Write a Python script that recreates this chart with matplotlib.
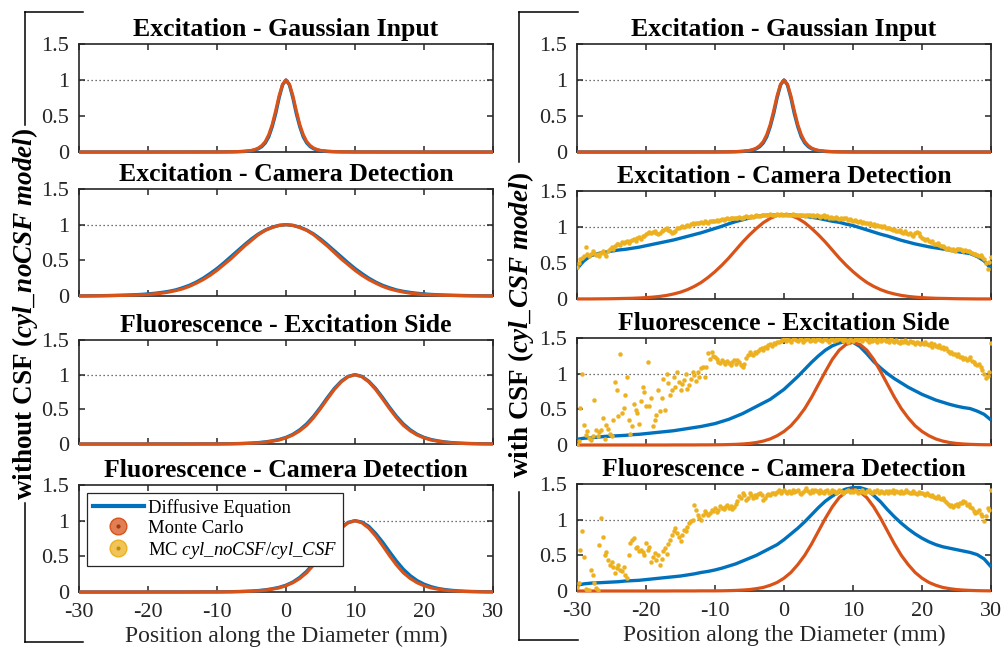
import numpy as np
import matplotlib
matplotlib.use("Agg")
import matplotlib.pyplot as plt
from matplotlib.lines import Line2D

plt.rcParams.update({
    'font.family': ['Liberation Serif', 'DejaVu Serif'],
    'mathtext.fontset': 'custom',
    'mathtext.rm': 'Liberation Serif',
    'mathtext.it': 'Liberation Serif:italic',
    'mathtext.bf': 'Liberation Serif:bold',
    'mathtext.bfit': 'Liberation Serif:italic:bold',
})

# ---------------- data ----------------
X_TICKS = [-30, -20, -10, 0, 10, 20, 30]
X_TICK_LABELS = ['-30', '-20', '-10', '0', '10', '20', '30']
Y_TICKS = [0, 0.5, 1, 1.5]
Y_TICK_LABELS = ['0', '0.5', '1', '1.5']

TITLES = ['Excitation - Gaussian Input', 'Excitation - Camera Detection',
          'Fluorescence - Excitation Side', 'Fluorescence - Camera Detection']

# x positions (mm)
X_NARROW = [-30, -20, -10, -8, -7, -6, -5, -4.5, -4, -3.5, -3, -2.5, -2, -1.5, -1, -0.5, 0,
            0.5, 1, 1.5, 2, 2.5, 3, 3.5, 4, 4.5, 5, 6, 7, 8, 10, 20, 30]
X_MM = np.arange(-30, 31, 1)
X_FINE = np.arange(-30, 30.001, 0.25)

# Panel 1 (both columns): Gaussian input
P1_BLUE = [0, 0, 0.001, 0.002, 0.004, 0.008, 0.018, 0.028, 0.045, 0.075, 0.125, 0.21, 0.35, 0.53, 0.75, 0.93, 1.0,
           0.93, 0.75, 0.53, 0.35, 0.21, 0.125, 0.075, 0.045, 0.028, 0.018, 0.008, 0.004, 0.002, 0.001, 0, 0]
P1_RED = [0, 0, 0.001, 0.003, 0.005, 0.01, 0.022, 0.035, 0.055, 0.09, 0.145, 0.24, 0.38, 0.57, 0.78, 0.94, 1.0,
          0.94, 0.78, 0.57, 0.38, 0.24, 0.145, 0.09, 0.055, 0.035, 0.022, 0.01, 0.005, 0.003, 0.001, 0, 0]

# Left column (without CSF)
L2_BLUE = [0.001, 0.002, 0.003, 0.004, 0.006, 0.008, 0.010, 0.013, 0.017, 0.022,
           0.029, 0.038, 0.050, 0.065, 0.085, 0.115, 0.150, 0.195, 0.250, 0.315,
           0.385, 0.465, 0.550, 0.635, 0.720, 0.800, 0.870, 0.925, 0.965, 0.990,
           1.000,
           0.990, 0.965, 0.925, 0.870, 0.800, 0.720, 0.635, 0.550, 0.465, 0.385,
           0.315, 0.250, 0.195, 0.150, 0.115, 0.085, 0.065, 0.050, 0.038, 0.029,
           0.022, 0.017, 0.013, 0.010, 0.008, 0.006, 0.004, 0.003, 0.002, 0.001]
L2_RED = [0.001, 0.001, 0.002, 0.003, 0.004, 0.006, 0.008, 0.010, 0.013, 0.017,
          0.022, 0.030, 0.040, 0.055, 0.075, 0.100, 0.135, 0.180, 0.230, 0.290,
          0.360, 0.440, 0.520, 0.610, 0.700, 0.780, 0.860, 0.920, 0.960, 0.990,
          1.000,
          0.990, 0.960, 0.920, 0.860, 0.780, 0.700, 0.610, 0.520, 0.440, 0.360,
          0.290, 0.230, 0.180, 0.135, 0.100, 0.075, 0.055, 0.040, 0.030, 0.022,
          0.017, 0.013, 0.010, 0.008, 0.006, 0.004, 0.003, 0.002, 0.001, 0.001]
L3_BLUE = [0, 0, 0, 0, 0, 0, 0, 0, 0, 0,
           0.001, 0.001, 0.001, 0.001, 0.001, 0.001, 0.001, 0.001, 0.002, 0.002,
           0.002, 0.003, 0.004, 0.006, 0.009, 0.013, 0.020, 0.030, 0.045, 0.065,
           0.095, 0.140, 0.205, 0.290, 0.400, 0.530, 0.670, 0.800, 0.905, 0.975,
           1.000,
           0.975, 0.905, 0.800, 0.670, 0.530, 0.400, 0.290, 0.205, 0.140, 0.095,
           0.065, 0.045, 0.030, 0.020, 0.013, 0.009, 0.006, 0.004, 0.003, 0.002]
L3_RED = [0, 0, 0, 0, 0, 0, 0, 0, 0, 0,
          0, 0, 0, 0, 0, 0, 0.001, 0.001, 0.001, 0.001,
          0.001, 0.002, 0.003, 0.005, 0.007, 0.011, 0.017, 0.026, 0.040, 0.058,
          0.088, 0.130, 0.190, 0.270, 0.380, 0.510, 0.650, 0.785, 0.895, 0.970,
          1.000,
          0.970, 0.895, 0.785, 0.650, 0.510, 0.380, 0.270, 0.190, 0.130, 0.088,
          0.058, 0.040, 0.026, 0.017, 0.011, 0.007, 0.005, 0.003, 0.002, 0.001]
L4_BLUE = [0, 0, 0, 0, 0, 0, 0, 0, 0, 0,
           0.001, 0.001, 0.001, 0.001, 0.001, 0.001, 0.001, 0.001, 0.002, 0.002,
           0.002, 0.003, 0.004, 0.006, 0.009, 0.013, 0.020, 0.030, 0.045, 0.065,
           0.095, 0.140, 0.205, 0.290, 0.400, 0.530, 0.670, 0.800, 0.905, 0.975,
           1.000,
           0.980, 0.920, 0.820, 0.700, 0.565, 0.435, 0.320, 0.230, 0.160, 0.110,
           0.075, 0.050, 0.034, 0.023, 0.015, 0.010, 0.007, 0.005, 0.003, 0.002]
L4_RED = [0, 0, 0, 0, 0, 0, 0, 0, 0, 0,
          0, 0, 0, 0, 0, 0, 0.001, 0.001, 0.001, 0.001,
          0.001, 0.002, 0.003, 0.005, 0.007, 0.011, 0.017, 0.026, 0.040, 0.058,
          0.088, 0.130, 0.190, 0.270, 0.380, 0.510, 0.650, 0.785, 0.895, 0.970,
          1.000,
          0.970, 0.895, 0.785, 0.650, 0.510, 0.380, 0.270, 0.190, 0.130, 0.088,
          0.058, 0.040, 0.026, 0.017, 0.011, 0.007, 0.005, 0.003, 0.002, 0.001]

# Right column (with CSF)
R2_BLUE = [0.42, 0.53, 0.60, 0.63, 0.65, 0.665, 0.68, 0.69, 0.705, 0.72,
           0.74, 0.76, 0.78, 0.80, 0.82, 0.845, 0.87, 0.895, 0.92, 0.95,
           0.98, 1.01, 1.045, 1.075, 1.10, 1.125, 1.145, 1.16, 1.165, 1.17,
           1.17,
           1.17, 1.16, 1.15, 1.135, 1.12, 1.10, 1.08, 1.065, 1.04, 1.02,
           0.99, 0.96, 0.93, 0.90, 0.875, 0.845, 0.815, 0.79, 0.765, 0.745,
           0.725, 0.71, 0.695, 0.68, 0.66, 0.645, 0.63, 0.59, 0.53, 0.42]
R2_RED = [0.001, 0.001, 0.001, 0.002, 0.003, 0.004, 0.006, 0.008, 0.010, 0.014,
          0.019, 0.026, 0.036, 0.050, 0.070, 0.095, 0.130, 0.175, 0.230, 0.300,
          0.380, 0.470, 0.570, 0.680, 0.790, 0.890, 0.980, 1.060, 1.120, 1.160,
          1.170,
          1.160, 1.120, 1.060, 0.980, 0.890, 0.790, 0.680, 0.570, 0.470, 0.380,
          0.300, 0.230, 0.175, 0.130, 0.095, 0.070, 0.050, 0.036, 0.026, 0.019,
          0.014, 0.010, 0.008, 0.006, 0.004, 0.003, 0.002, 0.001, 0.001, 0.001]
R2_YELLOW = [
    .44, .50, .55, .57, .60, .72, .63, .60, .62, .66, .64, .61, .62, .60, .64, .67, .62, .60, .66, .70,
    .72, .70, .74, .76, .77, .75, .79, .78, .79, .81, .78, .80, .82, .84, .81, .85, .86, .84, .88, .87,
    .90, .92, .93, .91, .93, .95, .92, .90, .91, .94, .96, .97, .98, .96, .94, .92, .93, .95, .98, .99,
    1.00, 1.01, 1.00, 1.02, 1.03, 1.02, 1.04, 1.05, 1.04, 1.06, 1.05, 1.06, 1.07, 1.06, 1.08, 1.07, 1.06, 1.08, 1.09, 1.08,
    1.09, 1.10, 1.09, 1.10, 1.11, 1.10, 1.11, 1.12, 1.11, 1.12, 1.13, 1.12, 1.12, 1.13, 1.14, 1.13, 1.12, 1.14, 1.15, 1.14,
    1.14, 1.15, 1.14, 1.15, 1.16, 1.15, 1.15, 1.16, 1.16, 1.17, 1.16, 1.17, 1.18, 1.17, 1.16, 1.17, 1.18, 1.17, 1.18, 1.17,
    1.17, 1.18, 1.17, 1.16, 1.17, 1.18, 1.17, 1.16, 1.17, 1.16, 1.17, 1.16, 1.15, 1.16, 1.17, 1.16, 1.15, 1.16, 1.15, 1.16,
    1.15, 1.14, 1.15, 1.16, 1.14, 1.15, 1.13, 1.14, 1.13, 1.12, 1.14, 1.13, 1.11, 1.12, 1.11, 1.13, 1.12, 1.10, 1.11, 1.10,
    1.09, 1.10, 1.08, 1.07, 1.08, 1.06, 1.07, 1.05, 1.06, 1.04, 1.05, 1.03, 1.04, 1.02, 1.03, 1.01, 1.02, 1.00, 1.01, 0.99,
    .98, .99, .97, .96, .97, .95, .94, .96, .93, .92, .94, .91, .90, .92, .89, .88, .91, .93, .92, .88,
    .85, .84, .82, .83, .80, .79, .80, .77, .76, .78, .75, .73, .74, .72, .70, .71, .69, .68, .70, .67,
    .70, .69, .70, .68, .67, .68, .66, .67, .65, .64, .62, .63, .61, .60, .61, .58, .55, .50, .42, .52,
    .58]

R3_BLUE = [0.08, 0.095, 0.10, 0.11, 0.12, 0.125, 0.13, 0.135, 0.145, 0.15,
           0.16, 0.17, 0.18, 0.19, 0.20, 0.215, 0.23, 0.245, 0.26, 0.28,
           0.30, 0.33, 0.36, 0.40, 0.44, 0.49, 0.54, 0.59, 0.64, 0.71,
           0.78, 0.87, 0.96, 1.06, 1.16, 1.25, 1.33, 1.39, 1.43, 1.45,
           1.44,
           1.38, 1.28, 1.17, 1.08, 1.00, 0.93, 0.87, 0.81, 0.76, 0.71,
           0.67, 0.63, 0.60, 0.57, 0.545, 0.525, 0.51, 0.475, 0.43, 0.35]
R3_RED = [0, 0, 0, 0, 0, 0, 0, 0, 0, 0,
          0, 0, 0, 0, 0.001, 0.001, 0.001, 0.001, 0.002, 0.002,
          0.003, 0.004, 0.006, 0.009, 0.014, 0.022, 0.035, 0.055, 0.085, 0.130,
          0.190, 0.270, 0.380, 0.510, 0.670, 0.850, 1.030, 1.200, 1.330, 1.410,
          1.440,
          1.410, 1.330, 1.200, 1.030, 0.850, 0.670, 0.510, 0.380, 0.270, 0.190,
          0.130, 0.085, 0.055, 0.035, 0.022, 0.014, 0.009, 0.006, 0.004, 0.003]
R3_YELLOW = [
    0.00, .05, .52, 1.00, .28, .14, .20, .10, .07, .12, .63, .21, .12, .18, .21, .38, .09, .28, .22, .16,
    .13, .35, .89, .77, .40, 1.27, .45, .52, .70, .96, .35, .16, .26, .58, .49, .45, .30, .61, .82, .75,
    .55, 1.17, .54, .66, .26, .35, .42, .77, .48, .66, .92, .49, 1.00, .87, .70, .77, .95, .82, 1.03, .89,
    .77, .86, .91, 1.00, .78, .84, .93, 1.03, .98, .90, 1.02, .96, 1.08, 1.10, .96, 1.10, 1.29, 1.21, 1.31, 1.25,
    1.24, 1.20, 1.17, 1.15, 1.19, 1.16, 1.13, 1.18, 1.15, 1.12, 1.17, 1.19, 1.14, 1.19, 1.16, 1.12, 1.10, 1.14, 1.22, 1.26,
    1.31, 1.28, 1.26, 1.30, 1.29, 1.32, 1.34, 1.36, 1.33, 1.38, 1.36, 1.40, 1.41, 1.39, 1.43, 1.42, 1.45, 1.44, 1.46, 1.47,
    1.48, 1.46, 1.49, 1.47, 1.45, 1.48, 1.50, 1.47, 1.46, 1.49, 1.48, 1.45, 1.47, 1.50, 1.48, 1.46, 1.47, 1.49, 1.46, 1.48,
    1.49, 1.47, 1.46, 1.48, 1.50, 1.47, 1.45, 1.48, 1.49, 1.46, 1.48, 1.47, 1.50, 1.48, 1.46, 1.49, 1.47, 1.45, 1.48, 1.47,
    1.46, 1.48, 1.50, 1.47, 1.49, 1.46, 1.48, 1.50, 1.47, 1.45, 1.48, 1.46, 1.49, 1.47, 1.45, 1.48, 1.46, 1.47, 1.49, 1.46,
    1.47, 1.45, 1.48, 1.46, 1.44, 1.47, 1.45, 1.43, 1.46, 1.44, 1.47, 1.45, 1.43, 1.46, 1.44, 1.45, 1.42, 1.44, 1.43, 1.41,
    1.43, 1.41, 1.44, 1.42, 1.40, 1.43, 1.38, 1.41, 1.39, 1.37, 1.40, 1.36, 1.38, 1.34, 1.36, 1.32, 1.29, 1.31, 1.27, 1.28,
    1.25, 1.27, 1.23, 1.24, 1.21, 1.22, 1.19, 1.20, 1.23, 1.18, 1.16, 1.14, 1.12, 1.13, 1.10, 1.05, 1.00, .94, .97, 1.02,
    1.43]

R4_BLUE = [0.08, 0.10, 0.11, 0.115, 0.12, 0.125, 0.13, 0.14, 0.145, 0.15,
           0.16, 0.17, 0.18, 0.19, 0.20, 0.21, 0.225, 0.24, 0.26, 0.275,
           0.295, 0.32, 0.35, 0.38, 0.42, 0.46, 0.50, 0.55, 0.60, 0.65,
           0.72, 0.80, 0.88, 0.97, 1.07, 1.17, 1.26, 1.33, 1.39, 1.43,
           1.45,
           1.45, 1.42, 1.34, 1.25, 1.14, 1.04, 0.95, 0.87, 0.80, 0.74,
           0.69, 0.65, 0.62, 0.60, 0.58, 0.56, 0.54, 0.51, 0.45, 0.34]
R4_RED = [0, 0, 0, 0, 0, 0, 0, 0, 0, 0,
          0, 0, 0, 0, 0.001, 0.001, 0.001, 0.001, 0.002, 0.002,
          0.002, 0.003, 0.005, 0.008, 0.013, 0.020, 0.033, 0.050, 0.080, 0.120,
          0.180, 0.260, 0.370, 0.500, 0.660, 0.840, 1.020, 1.180, 1.310, 1.390,
          1.420,
          1.390, 1.310, 1.180, 1.020, 0.840, 0.660, 0.500, 0.370, 0.260, 0.180,
          0.120, 0.080, 0.050, 0.033, 0.020, 0.013, 0.008, 0.005, 0.003, 0.002]
R4_YELLOW = [
    .06, .11, .58, .84, .48, .03, .01, .02, .30, .22, .11, .04, .02, .65, 1.02, .76, .51, .55, .44, .37,
    .40, .33, .25, .32, .36, .30, .28, .33, .22, .18, .51, .67, .72, .74, .60, .62, .56, .58, .55, .50,
    .67, .58, .62, .41, .48, .53, .44, .50, .37, .45, .56, .60, .52, .66, .72, .79, .84, .88, .82, .76,
    .70, .78, .86, .84, .90, .95, .98, 1.00, 1.21, 1.13, 1.07, 1.03, 1.00, 1.06, 1.12, 1.10, 1.07, 1.09, 1.14, 1.12,
    1.16, 1.11, 1.14, 1.19, 1.17, 1.15, 1.18, 1.21, 1.16, 1.19, 1.15, 1.18, 1.22, 1.26, 1.33, 1.30, 1.37, 1.34, 1.27, 1.31,
    1.37, 1.34, 1.30, 1.35, 1.32, 1.36, 1.37, 1.35, 1.28, 1.31, 1.35, 1.36, 1.34, 1.37, 1.38, 1.36, 1.39, 1.41, 1.38, 1.40,
    1.41, 1.39, 1.37, 1.40, 1.38, 1.41, 1.39, 1.40, 1.42, 1.38, 1.36, 1.39, 1.41, 1.44, 1.40, 1.38, 1.41, 1.39, 1.42, 1.40,
    1.38, 1.41, 1.39, 1.37, 1.40, 1.42, 1.38, 1.39, 1.41, 1.40, 1.38, 1.39, 1.41, 1.40, 1.38, 1.39, 1.40, 1.41, 1.39, 1.40,
    1.39, 1.41, 1.40, 1.38, 1.39, 1.41, 1.39, 1.37, 1.40, 1.41, 1.39, 1.38, 1.40, 1.39, 1.41, 1.38, 1.40, 1.39, 1.37, 1.40,
    1.38, 1.40, 1.39, 1.41, 1.38, 1.40, 1.39, 1.37, 1.40, 1.38, 1.39, 1.41, 1.39, 1.37, 1.38, 1.40, 1.38, 1.36, 1.39, 1.37,
    1.38, 1.36, 1.35, 1.37, 1.34, 1.33, 1.35, 1.32, 1.30, 1.33, 1.31, 1.29, 1.30, 1.27, 1.25, 1.22, 1.19, 1.21, 1.18, 1.20,
    1.22, 1.19, 1.23, 1.24, 1.26, 1.25, 1.20, 1.22, 1.18, 1.16, 1.12, 1.09, 1.11, 1.14, 1.08, 1.05, .98, 1.05, 1.16, 1.13,
    1.42]

LEGEND_LABELS = ['Diffusive Equation', 'Monte Carlo', r'MC $\mathit{cyl\_noCSF/cyl\_CSF}$']
YLABEL_LEFT = r'without CSF ($\mathbfit{cyl\_noCSF}$ $\mathbfit{model}$)'
YLABEL_RIGHT = r'with CSF ($\mathbfit{cyl\_CSF}$ $\mathbfit{model}$)'
XLABEL = 'Position along the Diameter (mm)'

# ---------------- styling ----------------
BLUE = '#0072BD'
RED = '#D95319'
YELLOW = '#EDB120'
AXC = '#262626'
W, H = 1004, 654

fig = plt.figure(figsize=(W / 100, H / 100), dpi=100)


def box(l, t, r, b):
    return [l / W, 1 - b / H, (r - l) / W, (b - t) / H]


LEFT_BOXES = [box(79, 44, 493, 152), box(79, 189, 493, 296), box(79, 340, 493, 444), box(79, 485, 493, 592)]
RIGHT_BOXES = [box(577, 44, 991, 152), box(577, 191, 991, 299), box(577, 338, 991, 445), box(577, 484, 991, 591)]

left_data = [(X_NARROW, P1_BLUE, X_NARROW, P1_RED, None),
             (X_MM, L2_BLUE, X_MM, L2_RED, None),
             (X_MM, L3_BLUE, X_MM, L3_RED, None),
             (X_MM, L4_BLUE, X_MM, L4_RED, None)]
right_data = [(X_NARROW, P1_BLUE, X_NARROW, P1_RED, None),
              (X_MM, R2_BLUE, X_MM, R2_RED, R2_YELLOW),
              (X_MM, R3_BLUE, X_MM, R3_RED, R3_YELLOW),
              (X_MM, R4_BLUE, X_MM, R4_RED, R4_YELLOW)]


def draw(ax, data, title, bottom):
    xb, yb, xr, yr, yy = data
    ax.plot(xb, yb, color=BLUE, lw=2.4, zorder=4, clip_on=False, solid_capstyle='butt')
    ax.plot(xr, yr, color=RED, lw=2.3, zorder=5, clip_on=False, solid_capstyle='butt')
    if yy is not None:
        ax.plot(X_FINE, yy, ls='none', marker='o', ms=3.0, mfc=YELLOW, mec=YELLOW, mew=0.2,
                zorder=6, clip_on=True)
    ax.axhline(1, color='#444444', ls=(0, (1, 2.2)), lw=0.9, zorder=1)
    ax.set_xlim(-30, 30)
    ax.set_ylim(0, 1.5)
    ax.set_yticks(Y_TICKS)
    ax.set_yticklabels(Y_TICK_LABELS)
    ax.set_xticks(X_TICKS)
    if bottom:
        ax.set_xticklabels(X_TICK_LABELS)
        ax.set_xlabel(XLABEL, fontsize=17, labelpad=3, color='#262626')
    else:
        ax.set_xticklabels([])
    ax.tick_params(axis='y', direction='in', length=4, width=1.1, left=True, right=True,
                   labelsize=16, pad=7, color=AXC, labelcolor='#262626')
    ax.tick_params(axis='x', direction='in', length=4, width=1.1, top=True, bottom=True,
                   labelsize=16, pad=8, color=AXC, labelcolor='#262626')
    for s in ax.spines.values():
        s.set_linewidth(1.2)
        s.set_color(AXC)
        s.set_zorder(3)
    ax.set_title(title, fontsize=18.5, fontweight='bold', pad=6)


axes_left = []
for i in range(4):
    ax = fig.add_axes(LEFT_BOXES[i])
    draw(ax, left_data[i], TITLES[i], i == 3)
    axes_left.append(ax)
for i in range(4):
    ax = fig.add_axes(RIGHT_BOXES[i])
    draw(ax, right_data[i], TITLES[i], i == 3)

# legend in bottom-left panel
h_blue = Line2D([], [], color=BLUE, lw=3)
h_red = (Line2D([], [], ls='none', marker='o', ms=12, mfc=(0.851, 0.325, 0.098, 0.75), mec=RED, mew=1),
         Line2D([], [], ls='none', marker='o', ms=2, mfc='#A03A10', mec='#A03A10'))
h_yel = (Line2D([], [], ls='none', marker='o', ms=12, mfc=(0.929, 0.694, 0.125, 0.75), mec=YELLOW, mew=1),
         Line2D([], [], ls='none', marker='o', ms=2, mfc='#C08A10', mec='#C08A10'))
leg = axes_left[3].legend([h_blue, h_red, h_yel], LEGEND_LABELS, loc='upper left', fontsize=13.5,
                          frameon=True, fancybox=False, framealpha=1, edgecolor=AXC,
                          handlelength=2.7, handletextpad=0.25, borderpad=0.3,
                          labelspacing=0.15, borderaxespad=0.45)
leg.get_frame().set_linewidth(0.9)
leg.set_zorder(10)

# y labels with bracket lines
fig.text(25 / W, 1 - 314 / H, YLABEL_LEFT, rotation=90, ha='center', va='center',
         fontsize=19.5, fontweight='bold')
fig.text(521 / W, 1 - 325 / H, YLABEL_RIGHT, rotation=90, ha='center', va='center',
         fontsize=19.5, fontweight='bold')


def fline(x0, y0, x1, y1):
    fig.add_artist(Line2D([x0 / W, x1 / W], [1 - y0 / H, 1 - y1 / H], transform=fig.transFigure,
                          color='black', lw=1.1))


fline(25, 12, 83, 12)
fline(25, 12, 25, 125)
fline(25, 503, 25, 642)
fline(25, 642, 83, 642)
fline(519, 12, 578, 12)
fline(519, 12, 519, 162)
fline(519, 492, 519, 640)
fline(519, 640, 578, 640)

fig.savefig('out.png', dpi=100)
